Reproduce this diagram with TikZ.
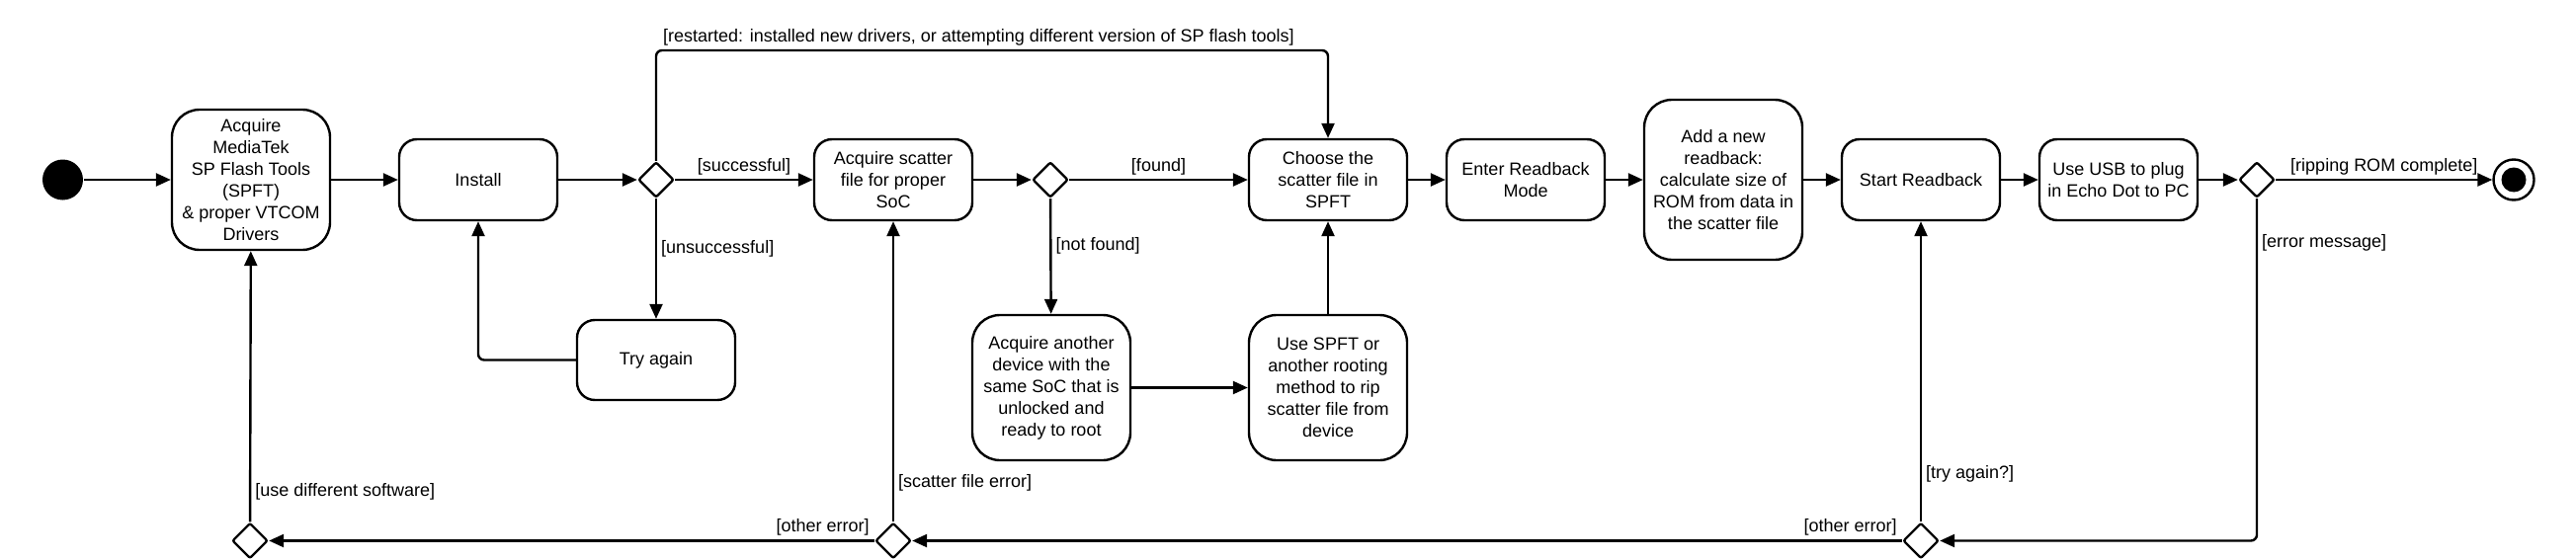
\documentclass[tikz,border=0pt]{standalone}
\usepackage{fontspec}
\setmainfont{Liberation Sans}
\usetikzlibrary{arrows.meta,shapes.geometric}
\tikzset{
  act/.style={draw, rounded corners=9pt, minimum width=80pt, minimum height=41pt, align=center, inner sep=2pt},
  tallact/.style={act, rounded corners=14pt},
  choice/.style={draw, diamond, minimum width=18pt, minimum height=18pt, inner sep=0pt, rounded corners=1pt},
  flow/.style={-{Triangle[length=7.5pt,width=6.5pt]}},
  guard/.style={inner sep=2pt},
}
\begin{document}
\begin{tikzpicture}[x=0.5pt,y=-0.5pt, line width=1.2pt, font=\fontsize{9}{11}\selectfont]
  \useasboundingbox (0,0) rectangle (2607,567);
  \coordinate (toprow) at (0,51);
  % main row
  \node[circle, fill, minimum size=20.5pt, inner sep=0pt] (start) at (63.5,182) {};
  \node[tallact, minimum height=71pt] (acq) at (254,182) {Acquire\\MediaTek\\SP Flash Tools\\(SPFT)\\\& proper VTCOM\\Drivers};
  \node[act] (inst) at (484,182) {Install};
  \node[choice] (d1) at (664,182) {};
  \node[act] (scat) at (904,182) {Acquire scatter\\file for proper\\SoC};
  \node[choice] (d2) at (1063,182) {};
  \node[act] (choose) at (1344,182) {Choose the\\scatter file in\\SPFT};
  \node[act] (enter) at (1544,182) {Enter Readback\\Mode};
  \node[tallact, minimum height=81pt] (addrb) at (1744,182) {Add a new\\readback:\\calculate size of\\ROM from data in\\the scatter file};
  \node[act] (startrb) at (1944,182) {Start Readback};
  \node[act] (usb) at (2144,182) {Use USB to plug\\in Echo Dot to PC};
  \node[choice] (d3) at (2284,182) {};
  \node[circle, draw, minimum size=20.5pt, inner sep=0pt] (final) at (2544,182) {};
  \node[circle, fill, minimum size=12.5pt, inner sep=0pt] (finalin) at (final) {};
  % second row
  \node[act, minimum height=40.5pt] (try) at (664,364.5) {Try again};
  \node[tallact, minimum height=73.5pt] (another) at (1064,392.5) {Acquire another\\device with the\\same SoC that is\\unlocked and\\ready to root};
  \node[tallact, minimum height=73.5pt] (usespft) at (1344,392.5) {Use SPFT or\\another rooting\\method to rip\\scatter file from\\device};
  % error row
  \node[choice] (b1) at (253,547.5) {};
  \node[choice] (b2) at (904,547.5) {};
  \node[choice] (b3) at (1944,547.5) {};

  \draw[flow] (start) -- (acq);
  \draw[flow] (acq) -- (inst);
  \draw[flow] (inst) -- (d1);
  \draw[flow] (d1) -- node[guard, above] {[successful]} (scat);
  \draw[flow] (d1) -- node[guard, right, pos=0.42] {[unsuccessful]} (try);
  \draw[flow, rounded corners=3pt] (try.west) -| (inst.south);
  \draw[flow, rounded corners=3pt] (d1.north) |- node[guard, above, pos=0.74] {[restarted: installed new drivers, or attempting different version of SP flash tools]} (choose.north |- toprow) -- (choose.north);
  \draw[flow] (scat) -- (d2);
  \draw[flow] (d2) -- node[guard, above] {[found]} (choose);
  \draw[flow] (d2) -- node[guard, right, pos=0.41] {[not found]} (another);
  \draw[flow] (another) -- (usespft);
  \draw[flow] (usespft) -- (choose);
  \draw[flow] (choose) -- (enter);
  \draw[flow] (enter) -- (addrb);
  \draw[flow] (addrb) -- (startrb);
  \draw[flow] (startrb) -- (usb);
  \draw[flow] (usb) -- (d3);
  \draw[flow] (d3) -- node[guard, above] {[ripping ROM complete]} (final);
  \draw[flow, rounded corners=3pt] (d3.south) |- node[guard, right, pos=0.065] {[error message]} (b3.east);
  \draw[flow] (b3) -- node[guard, right, pos=0.16] {[try again?]} (startrb);
  \draw[flow] (b3) -- node[guard, above left, pos=0] {[other error]} (b2);
  \draw[flow] (b2) -- node[guard, right, pos=0.13] {[scatter file error]} (scat);
  \draw[flow] (b2) -- node[guard, above left, pos=0] {[other error]} (b1);
  \draw[flow] (b1) -- node[guard, right, pos=0.11] {[use different software]} (acq);
\end{tikzpicture}
\end{document}
